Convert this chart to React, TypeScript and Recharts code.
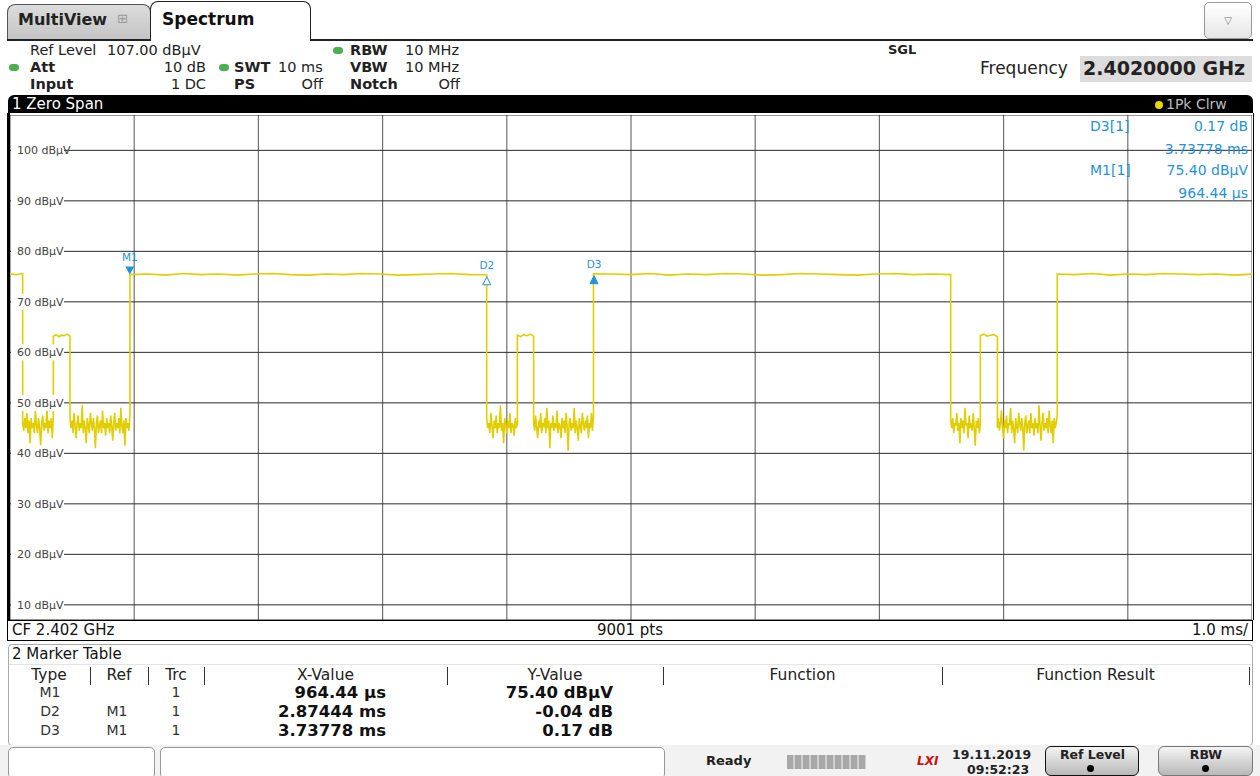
import React from 'react';
import { ComposedChart, Line, XAxis, YAxis, CartesianGrid, ReferenceDot } from 'recharts';

// ---- axis definition ----
const xTicks = [0, 1, 2, 3, 4, 5, 6, 7, 8, 9, 10]; // ms
const yTicks = [10, 20, 30, 40, 50, 60, 70, 80, 90, 100]; // dBµV
const yDomain = [7, 107];

// ---- trace: segment edge times (ms) and the values read inside each segment ----
const edgeTimes = [0, 0.102, 0.349, 0.483, 0.966, 3.838, 4.085, 4.216, 4.698, 7.574, 7.813, 7.95, 8.432, 10];

const high1 = [75.5, 75.4, 75.6];
const noiseA = [46, 44.5, 47, 45, 48, 44, 46.5, 42, 47, 45, 46, 44, 48.5, 45.5, 44, 47, 45, 41.5, 46, 47.5, 44.5, 46, 45, 49, 44, 46.5, 45, 47, 43, 47.5];
const mid1 = [63.2, 63.5, 63.1, 63.4, 63.3, 63.6, 63.2];
const noiseB = [47, 45, 46.5, 44, 48, 45.5, 43, 46, 47.5, 44.5, 46, 45, 49.5, 44, 46.5, 45, 42, 47, 45.5, 44, 48, 46, 44.5, 47, 45, 41, 46, 47.5, 44, 45.5, 46.5, 44, 48.5, 45, 46, 43.5, 47, 45, 46, 44, 47.5, 45.5, 42.5, 46, 48, 44.5, 46, 45, 47, 44, 49, 45.5, 44, 46.5, 41.5, 47, 45, 46, 44.5, 48];
const high2 = [75.4, 75.5, 75.3, 75.6, 75.4, 75.5, 75.3, 75.5, 75.6, 75.4, 75.3, 75.5, 75.4, 75.6, 75.5, 75.3, 75.4, 75.5, 75.6, 75.4, 75.36];
const noiseC = [47, 45, 46, 44, 48, 45.5, 43, 46.5, 45, 47.5, 44, 46, 45, 49.5, 44.5, 46, 42, 47, 45.5, 44, 46.5, 45, 48, 44, 46, 45.5, 43.5, 47, 45, 46];
const mid2 = [63.4, 63.1, 63.5, 63.3, 63.6, 63.2];
const noiseD = [46, 44.5, 47.5, 45, 43, 46.5, 45, 48, 44, 46, 45.5, 47, 44, 49, 45, 46.5, 41, 46, 45, 47.5, 44.5, 46, 45, 48.5, 44, 46, 45.5, 43, 47, 45, 46.5, 44, 48, 45.5, 40.5, 46, 47, 44.5, 46, 45, 49, 44, 46.5, 45, 42.5, 47, 45.5, 44, 48, 46, 44.5, 46.5, 45, 47.5, 43, 46, 45, 48, 44.5, 47.5];
const high3 = [75.57, 75.5, 75.4, 75.6, 75.3, 75.5, 75.4, 75.6, 75.5, 75.3, 75.4, 75.6, 75.5, 75.4, 75.3, 75.5, 75.6, 75.4, 75.5, 75.4];
const noiseE = [46.5, 45, 47, 44, 46, 45.5, 48, 44.5, 46, 42, 47, 45, 46.5, 44, 49, 45.5, 46, 43, 47.5, 45, 46, 44.5, 48, 45, 41.5, 46.5, 45, 47, 44, 46];
const mid3 = [63.3, 63.6, 63.2, 63.4, 63.5, 63.1];
const noiseF = [45, 47, 44.5, 46, 48.5, 45, 43, 46.5, 45, 47.5, 44, 46, 45.5, 49, 44, 46.5, 45, 42, 47, 45.5, 44, 48, 46, 44.5, 47, 45, 40.5, 46, 47.5, 44, 45.5, 46.5, 44, 48, 45, 46, 43.5, 47, 45, 46, 44, 49.5, 45.5, 42.5, 46, 48, 44.5, 46, 45, 47, 44, 48.5, 45.5, 44, 46.5, 42, 47, 45, 46, 47.5];
const high4 = [75.5, 75.4, 75.6, 75.3, 75.5, 75.4, 75.6, 75.5, 75.4, 75.5, 75.3, 75.5];

const segments = [high1, noiseA, mid1, noiseB, high2, noiseC, mid2, noiseD, high3, noiseE, mid3, noiseF, high4];

// ---- markers ----
const markerNames = ['M1', 'D2', 'D3'];
const markerTimes = [0.96444, 3.83888, 4.70222];
const markerLevels = [75.4, 75.36, 75.57];

// ---- marker table ----
const tableTypes = ['M1', 'D2', 'D3'];
const tableRefs = ['', 'M1', 'M1'];
const tableTrc = ['1', '1', '1'];
const tableX = ['964.44 µs', '2.87444 ms', '3.73778 ms'];
const tableY = ['75.40 dBµV', '-0.04 dB', '0.17 dB'];

const traceData: { t: number; v: number }[] = [];
segments.forEach((vals, i) => {
  const a = edgeTimes[i];
  const b = edgeTimes[i + 1];
  vals.forEach((v, j) => {
    traceData.push({ t: a + ((b - a) * j) / (vals.length - 1), v });
  });
});

const YELLOW = '#e2ce00';
const BLUE = '#1e93dc';
const FONT = '"DejaVu Sans", Verdana, sans-serif';

const YTick = (props: any) => {
  const { y, payload } = props;
  return (
    <g>
      <rect x={1} y={y - 8} width={53} height={16} fill="#fff" />
      <text x={7} y={y + 4} fontSize={11} fill="#444" fontFamily={FONT}>
        {`${payload.value} dBµV`}
      </text>
    </g>
  );
};

const markerShape = (name: string) => (p: any) => {
  const { cx, cy } = p;
  if (name === 'M1') {
    return (
      <g>
        <polygon points={`${cx - 4.5},${cy - 8} ${cx + 4.5},${cy - 8} ${cx},${cy}`} fill={BLUE} />
        <text x={cx} y={cy - 14} fontSize={10.5} fill={BLUE} textAnchor="middle" fontFamily={FONT}>{name}</text>
      </g>
    );
  }
  const hollow = name === 'D2';
  return (
    <g>
      <polygon
        points={`${cx},${cy + 2} ${cx - 4},${cy + 10} ${cx + 4},${cy + 10}`}
        fill={hollow ? '#fff' : BLUE}
        stroke={BLUE}
        strokeWidth={1}
      />
      <text x={cx} y={cy - 6} fontSize={10.5} fill={BLUE} textAnchor="middle" fontFamily={FONT}>{name}</text>
    </g>
  );
};

const abs = (left: number, top: number, extra: React.CSSProperties = {}): React.CSSProperties => ({
  position: 'absolute',
  left,
  top,
  whiteSpace: 'nowrap',
  ...extra,
});

const Dot = ({ left, top }: { left: number; top: number }) => (
  <div style={abs(left, top, { width: 10, height: 7, borderRadius: 4, background: '#4caf50' })} />
);

export default function App() {
  const hdr: React.CSSProperties = { fontSize: 14.5, color: '#222', lineHeight: '17px' };
  const hdrB: React.CSSProperties = { ...hdr, fontWeight: 'bold' };
  const colDiv = [90, 148, 204, 447, 663, 942, 1249];
  return (
    <div style={{ position: 'absolute', left: 0, top: 0, width: 1260, height: 776, background: '#fff', fontFamily: FONT, overflow: 'hidden' }}>
      {/* tabs */}
      <div style={abs(7, 4, { width: 142, height: 35, background: 'linear-gradient(#dcdcdc,#c4c4c4)', border: '1px solid #555', borderBottom: 'none', borderRadius: '8px 8px 0 0' })} />
      <div style={abs(18, 10, { fontSize: 16, fontWeight: 'bold', color: '#222' })}>MultiView</div>
      <div style={abs(117, 11, { fontSize: 13, color: '#999' })}>⊞</div>
      <div style={abs(150, 1, { width: 159, height: 39, background: '#fff', border: '1.5px solid #222', borderBottom: 'none', borderRadius: '8px 8px 0 0' })} />
      <div style={abs(162, 9, { fontSize: 17, fontWeight: 'bold', color: '#111' })}>Spectrum</div>
      <div style={abs(7, 39, { width: 143, height: 1.5, background: '#222' })} />
      <div style={abs(310, 39, { width: 943, height: 2, background: '#222' })} />
      <div style={abs(1204, 2, { width: 46, height: 35, border: '1px solid #999', borderRadius: 5, background: 'linear-gradient(#fff,#e6e6e6)', textAlign: 'center', lineHeight: '35px', fontSize: 10, color: '#777' })}>▽</div>

      {/* settings */}
      <div style={abs(30, 42, hdr)}>Ref Level</div>
      <div style={abs(107, 42, hdr)}>107.00 dBµV</div>
      <Dot left={9} top={64} />
      <div style={abs(30, 59, hdrB)}>Att</div>
      <div style={abs(136, 59, { ...hdr, width: 70, textAlign: 'right' })}>10 dB</div>
      <div style={abs(30, 76, hdrB)}>Input</div>
      <div style={abs(136, 76, { ...hdr, width: 70, textAlign: 'right' })}>1 DC</div>
      <Dot left={219} top={64} />
      <div style={abs(234, 59, hdrB)}>SWT</div>
      <div style={abs(278, 59, hdr)}>10 ms</div>
      <div style={abs(234, 76, hdrB)}>PS</div>
      <div style={abs(263, 76, { ...hdr, width: 60, textAlign: 'right' })}>Off</div>
      <Dot left={333} top={47} />
      <div style={abs(350, 42, hdrB)}>RBW</div>
      <div style={abs(405, 42, hdr)}>10 MHz</div>
      <div style={abs(350, 59, hdrB)}>VBW</div>
      <div style={abs(405, 59, hdr)}>10 MHz</div>
      <div style={abs(350, 76, hdrB)}>Notch</div>
      <div style={abs(400, 76, { ...hdr, width: 60, textAlign: 'right' })}>Off</div>
      <div style={abs(888, 42, { fontSize: 13, fontWeight: 'bold', color: '#222' })}>SGL</div>
      <div style={abs(980, 58, { fontSize: 17, color: '#222' })}>Frequency</div>
      <div style={abs(1080, 56, { width: 172, height: 26, background: '#dcdcdc' })} />
      <div style={abs(1083, 57, { fontSize: 19, fontWeight: 'bold', color: '#222' })}>2.4020000 GHz</div>

      {/* window title bar */}
      <div style={abs(8, 95, { width: 1245, height: 19, background: '#000', borderRadius: '6px 6px 0 0' })} />
      <div style={abs(12, 95, { fontSize: 15, color: '#fff', lineHeight: '19px' })}>1 Zero Span</div>
      <div style={abs(1155, 101, { width: 8, height: 8, borderRadius: 4, background: '#e8d800' })} />
      <div style={abs(1166, 95, { fontSize: 14, color: '#bbb', lineHeight: '19px' })}>1Pk Clrw</div>

      {/* plot frame */}
      <div style={abs(7, 113, { width: 1243, height: 507, borderLeft: '3px solid #000', borderRight: '1px solid #000', background: '#fff' })} />

      <div style={abs(10, 115)}>
        <ComposedChart width={1242} height={505} data={traceData} margin={{ top: 0, right: 0, bottom: 0, left: 0 }}>
          <CartesianGrid stroke="#707070" strokeWidth={1.2} horizontal={false} />
          <CartesianGrid stroke="#2a2a2a" strokeWidth={1} vertical={false} />
          <XAxis dataKey="t" type="number" domain={[0, 10]} ticks={xTicks} hide />
          <YAxis
            type="number"
            domain={yDomain}
            ticks={yTicks}
            mirror
            width={60}
            axisLine={false}
            tickLine={false}
            tick={<YTick />}
            interval={0}
            allowDataOverflow
          />
          <Line type="linear" dataKey="v" stroke={YELLOW} strokeWidth={1.6} dot={false} isAnimationActive={false} />
          {markerNames.map((n, i) => (
            <ReferenceDot key={n} x={markerTimes[i]} y={markerLevels[i]} r={4} shape={markerShape(n)} />
          ))}
        </ComposedChart>
      </div>

      {/* marker readout */}
      <div style={abs(1090, 118, { fontSize: 14, color: BLUE })}>D3[1]</div>
      <div style={abs(1148, 118, { fontSize: 14, color: BLUE, width: 100, textAlign: 'right' })}>0.17 dB</div>
      <div style={abs(1128, 141, { fontSize: 14, color: BLUE, width: 120, textAlign: 'right' })}>3.73778 ms</div>
      <div style={abs(1090, 162, { fontSize: 14, color: BLUE })}>M1[1]</div>
      <div style={abs(1128, 162, { fontSize: 14, color: BLUE, width: 120, textAlign: 'right' })}>75.40 dBµV</div>
      <div style={abs(1128, 185, { fontSize: 14, color: BLUE, width: 120, textAlign: 'right' })}>964.44 µs</div>

      {/* CF bar */}
      <div style={abs(7, 620, { width: 1244, height: 19, border: '1.5px solid #000', background: '#fff' })} />
      <div style={abs(12, 621, { fontSize: 15, color: '#111', lineHeight: '19px' })}>CF 2.402 GHz</div>
      <div style={abs(530, 621, { fontSize: 15, color: '#111', lineHeight: '19px', width: 200, textAlign: 'center' })}>9001 pts</div>
      <div style={abs(1100, 621, { fontSize: 15, color: '#111', lineHeight: '19px', width: 148, textAlign: 'right' })}>1.0 ms/</div>

      {/* marker table */}
      <div style={abs(8, 644, { width: 1243, height: 100, border: '1px solid #aaa', borderRadius: 4, background: '#fff' })} />
      <div style={abs(12, 645, { fontSize: 15, color: '#111' })}>2 Marker Table</div>
      <div style={abs(9, 664, { width: 1242, height: 1, background: '#e4e4e4' })} />
      {colDiv.map((x) => (
        <div key={x} style={abs(x, 667, { width: 1, height: 18, background: '#333' })} />
      ))}
      {[
        ['Type', 8, 82],
        ['Ref', 90, 58],
        ['Trc', 148, 56],
        ['X-Value', 204, 243],
        ['Y-Value', 447, 216],
        ['Function', 663, 279],
        ['Function Result', 942, 307],
      ].map(([t, l, w]) => (
        <div key={t as string} style={abs(l as number, 667, { width: w as number, textAlign: 'center', fontSize: 15.5, lineHeight: '17px', color: '#222' })}>{t}</div>
      ))}
      {tableTypes.map((t, i) => (
        <React.Fragment key={t}>
          <div style={abs(20, 684 + i * 19, { width: 60, textAlign: 'center', fontSize: 14, lineHeight: '17px', color: '#333' })}>{t}</div>
          <div style={abs(88, 684 + i * 19, { width: 58, textAlign: 'center', fontSize: 14, lineHeight: '17px', color: '#333' })}>{tableRefs[i]}</div>
          <div style={abs(148, 684 + i * 19, { width: 56, textAlign: 'center', fontSize: 14, lineHeight: '17px', color: '#333' })}>{tableTrc[i]}</div>
          <div style={abs(206, 684 + i * 19, { width: 180, textAlign: 'right', fontSize: 16.5, lineHeight: '17px', fontWeight: 'bold', color: '#111' })}>{tableX[i]}</div>
          <div style={abs(433, 684 + i * 19, { width: 180, textAlign: 'right', fontSize: 16.5, lineHeight: '17px', fontWeight: 'bold', color: '#111' })}>{tableY[i]}</div>
        </React.Fragment>
      ))}

      {/* status bar */}
      <div style={abs(0, 745, { width: 1260, height: 31, background: '#f2f2f2' })} />
      <div style={abs(8, 747, { width: 145, height: 30, border: '1px solid #999', borderRadius: 5, background: '#fff' })} />
      <div style={abs(160, 747, { width: 503, height: 30, border: '1px solid #999', borderRadius: 5, background: '#fff' })} />
      <div style={abs(706, 753, { fontSize: 13, fontWeight: 'bold', color: '#222' })}>Ready</div>
      <div style={abs(787, 755, { width: 79, height: 14, background: 'repeating-linear-gradient(90deg,#a8a8a8 0 6px,#d0d0d0 6px 8px)' })} />
      <div style={abs(917, 754, { fontSize: 12, fontWeight: 'bold', fontStyle: 'italic', color: '#d01010' })}>LXI</div>
      <div style={abs(952, 747, { fontSize: 12.5, fontWeight: 'bold', color: '#222' })}>19.11.2019</div>
      <div style={abs(967, 762, { fontSize: 12.5, fontWeight: 'bold', color: '#222' })}>09:52:23</div>
      <div style={abs(1045, 746, { width: 92, height: 28, border: '1.5px solid #111', borderRadius: 6, background: 'linear-gradient(#f4f4f4,#b8b8b8)' })} />
      <div style={abs(1045, 747, { width: 95, textAlign: 'center', fontSize: 12.5, fontWeight: 'bold', color: '#222' })}>Ref Level</div>
      <div style={abs(1087, 765, { width: 7, height: 7, borderRadius: 4, background: '#000' })} />
      <div style={abs(1158, 746, { width: 93, height: 28, border: '1px solid #777', borderRadius: 6, background: 'linear-gradient(#f4f4f4,#b8b8b8)' })} />
      <div style={abs(1158, 747, { width: 96, textAlign: 'center', fontSize: 12.5, fontWeight: 'bold', color: '#222' })}>RBW</div>
      <div style={abs(1202, 765, { width: 7, height: 7, borderRadius: 4, background: '#000' })} />
    </div>
  );
}
